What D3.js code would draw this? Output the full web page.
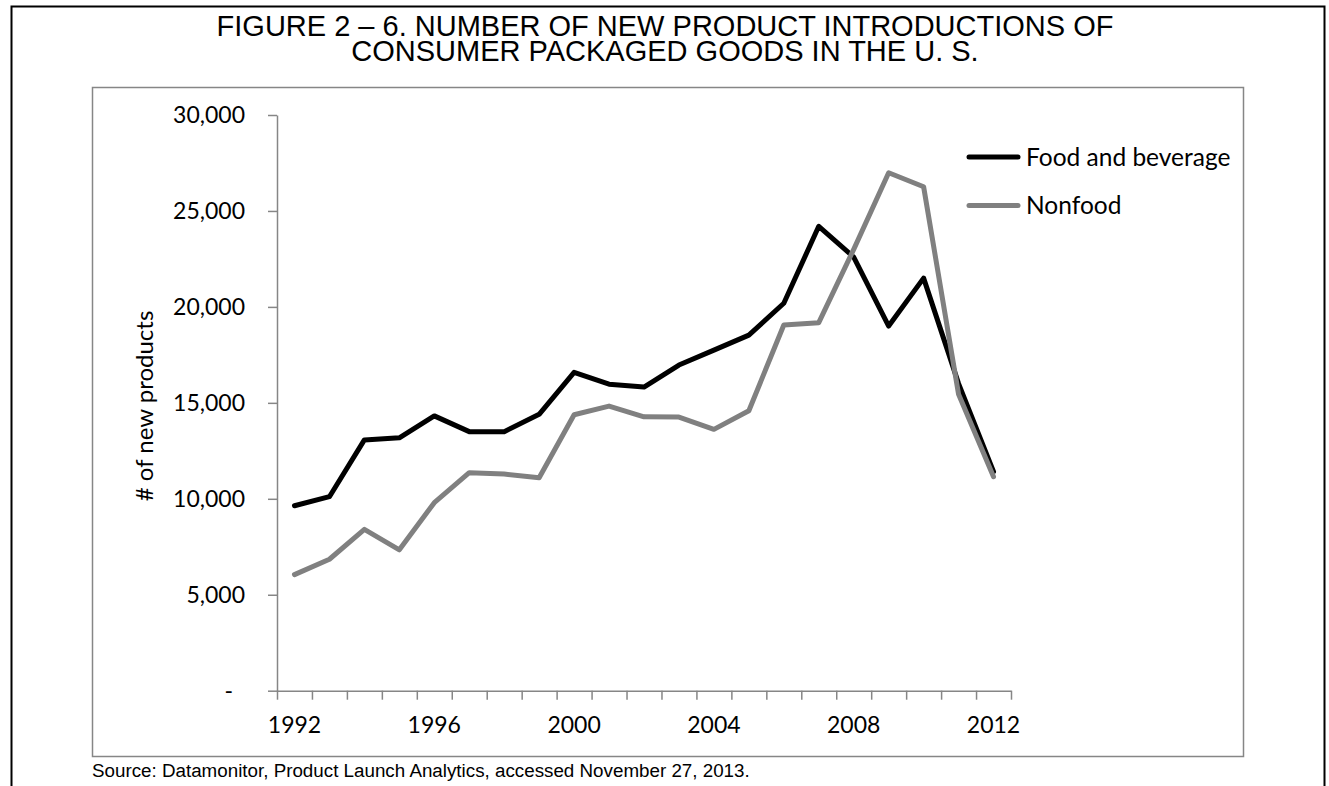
<!DOCTYPE html>
<html>
<head>
<meta charset="utf-8">
<script src="https://cdn.jsdelivr.net/npm/d3@7"></script>
<style>
  html, body { margin: 0; padding: 0; background: #fff; }
  svg { display: block; }
  .tick text { font-family: Lato, "Open Sans", sans-serif; }
</style>
</head>
<body>
<svg id="chart" width="1329" height="786"></svg>
<script>
// Number of new product introductions, U.S. consumer packaged goods
const years = [1992, 1993, 1994, 1995, 1996, 1997, 1998, 1999, 2000, 2001, 2002,
               2003, 2004, 2005, 2006, 2007, 2008, 2009, 2010, 2011, 2012];
const foodAndBeverage = [9640, 10110, 13070, 13180, 14320, 13500, 13500, 14400, 16590, 15970, 15820,
                         16970, 17750, 18530, 20190, 24200, 22600, 19000, 21500, 16000, 11410];
const nonfood = [6050, 6850, 8410, 7340, 9800, 11360, 11290, 11100, 14380, 14830, 14270,
                 14260, 13620, 14590, 19060, 19180, 23000, 26990, 26260, 15450, 11150];
const yTicks = [0, 5000, 10000, 15000, 20000, 25000, 30000];
const xLabelYears = [1992, 1996, 2000, 2004, 2008, 2012];
const seriesNames = ["Food and beverage", "Nonfood"];
const titleLines = ["FIGURE 2 \u2013 6. NUMBER OF NEW PRODUCT INTRODUCTIONS OF",
                    "CONSUMER PACKAGED GOODS IN THE U. S."];
const sourceNote = "Source: Datamonitor, Product Launch Analytics, accessed November 27, 2013.";

const series = [
  { name: seriesNames[0], values: foodAndBeverage, color: "#000000" },
  { name: seriesNames[1], values: nonfood, color: "#808080" }
];

const svg = d3.select("#chart");
const axisGray = "#868686";
const bodyFont = "Lato, 'Open Sans', sans-serif";
const titleFont = "'Liberation Sans', Arial, sans-serif";

// Outer figure frame (bottom edge runs off the page)
svg.append("path")
  .attr("d", "M11.5,800 V6.5 H1324.5 V800")
  .attr("fill", "none").attr("stroke", "#000").attr("stroke-width", 2);

// Title: one text block, two centred lines
svg.append("text")
  .attr("text-anchor", "middle")
  .attr("font-family", titleFont)
  .attr("font-size", 29)
  .attr("fill", "#000")
  .selectAll("tspan").data(titleLines).join("tspan")
  .attr("x", 665)
  .attr("y", (d, i) => 36 + i * 24.5)
  .text(d => d);

// Chart area frame
svg.append("rect")
  .attr("x", 92.5).attr("y", 87.5).attr("width", 1151).attr("height", 669)
  .attr("fill", "#fff").attr("stroke", axisGray).attr("stroke-width", 1.5);

// Scales
const plot = { left: 277, right: 1011, top: 115, bottom: 690.7 };
const x = d3.scaleBand().domain(years).range([plot.left, plot.right]).padding(0);
const xEdge = d3.scaleLinear().domain([0, years.length]).range([plot.left, plot.right]);
const y = d3.scaleLinear().domain([0, 30000]).range([plot.bottom, plot.top]);
const cx = d => x(d) + x.bandwidth() / 2;

// Y axis
const yAxis = svg.append("g")
  .attr("transform", `translate(${plot.left},0)`)
  .call(d3.axisLeft(y).tickValues(yTicks).tickSize(9).tickSizeOuter(0).tickPadding(23)
    .tickFormat(d => d === 0 ? "-" : d3.format(",")(d)));
yAxis.select(".domain").attr("stroke", axisGray).attr("stroke-width", 1.5);
yAxis.selectAll(".tick line").attr("stroke", axisGray).attr("stroke-width", 1.5);
yAxis.selectAll(".tick text")
  .attr("font-size", 23).attr("fill", "#000")
  .attr("dx", d => d === 0 ? -12 : 0);

// X axis: tick marks on category boundaries
const xAxis = svg.append("g")
  .attr("transform", `translate(0,${plot.bottom})`)
  .call(d3.axisBottom(xEdge).tickValues(d3.range(years.length + 1)).tickSize(9)
    .tickSizeOuter(0).tickFormat(""));
xAxis.select(".domain").attr("stroke", axisGray).attr("stroke-width", 1.5);
xAxis.selectAll(".tick line").attr("stroke", axisGray).attr("stroke-width", 1.5);

// X labels centred on categories
const xLabels = svg.append("g")
  .attr("transform", `translate(0,${plot.bottom})`)
  .call(d3.axisBottom(x).tickValues(xLabelYears).tickSize(0).tickPadding(26));
xLabels.select(".domain").remove();
xLabels.selectAll(".tick text").attr("font-size", 23).attr("fill", "#000");

// Y axis title
svg.append("text")
  .attr("transform", "translate(153,406) rotate(-90)")
  .attr("text-anchor", "middle")
  .attr("font-family", bodyFont)
  .attr("font-size", 24)
  .attr("fill", "#000")
  .text("# of new products");

// Lines
const line = d3.line().x((d, i) => cx(years[i])).y(d => y(d));
svg.append("g").selectAll("path").data(series).join("path")
  .attr("d", d => line(d.values))
  .attr("fill", "none")
  .attr("stroke", d => d.color)
  .attr("stroke-width", 5)
  .attr("stroke-linejoin", "round")
  .attr("stroke-linecap", "round");

// Legend
const legend = svg.append("g").selectAll("g").data(series).join("g")
  .attr("transform", (d, i) => `translate(0,${157 + i * 48.5})`);
legend.append("line")
  .attr("x1", 969).attr("x2", 1018).attr("y1", 0).attr("y2", 0)
  .attr("stroke", d => d.color).attr("stroke-width", 5).attr("stroke-linecap", "round");
legend.append("text")
  .attr("x", 1026).attr("y", 0).attr("dy", "0.35em")
  .attr("font-family", bodyFont).attr("font-size", 24.5).attr("fill", "#000")
  .text(d => d.name);

// Source note
svg.append("text")
  .attr("x", 92).attr("y", 777)
  .attr("font-family", titleFont)
  .attr("font-size", 18.8)
  .attr("fill", "#000")
  .text(sourceNote);
</script>
</body>
</html>
